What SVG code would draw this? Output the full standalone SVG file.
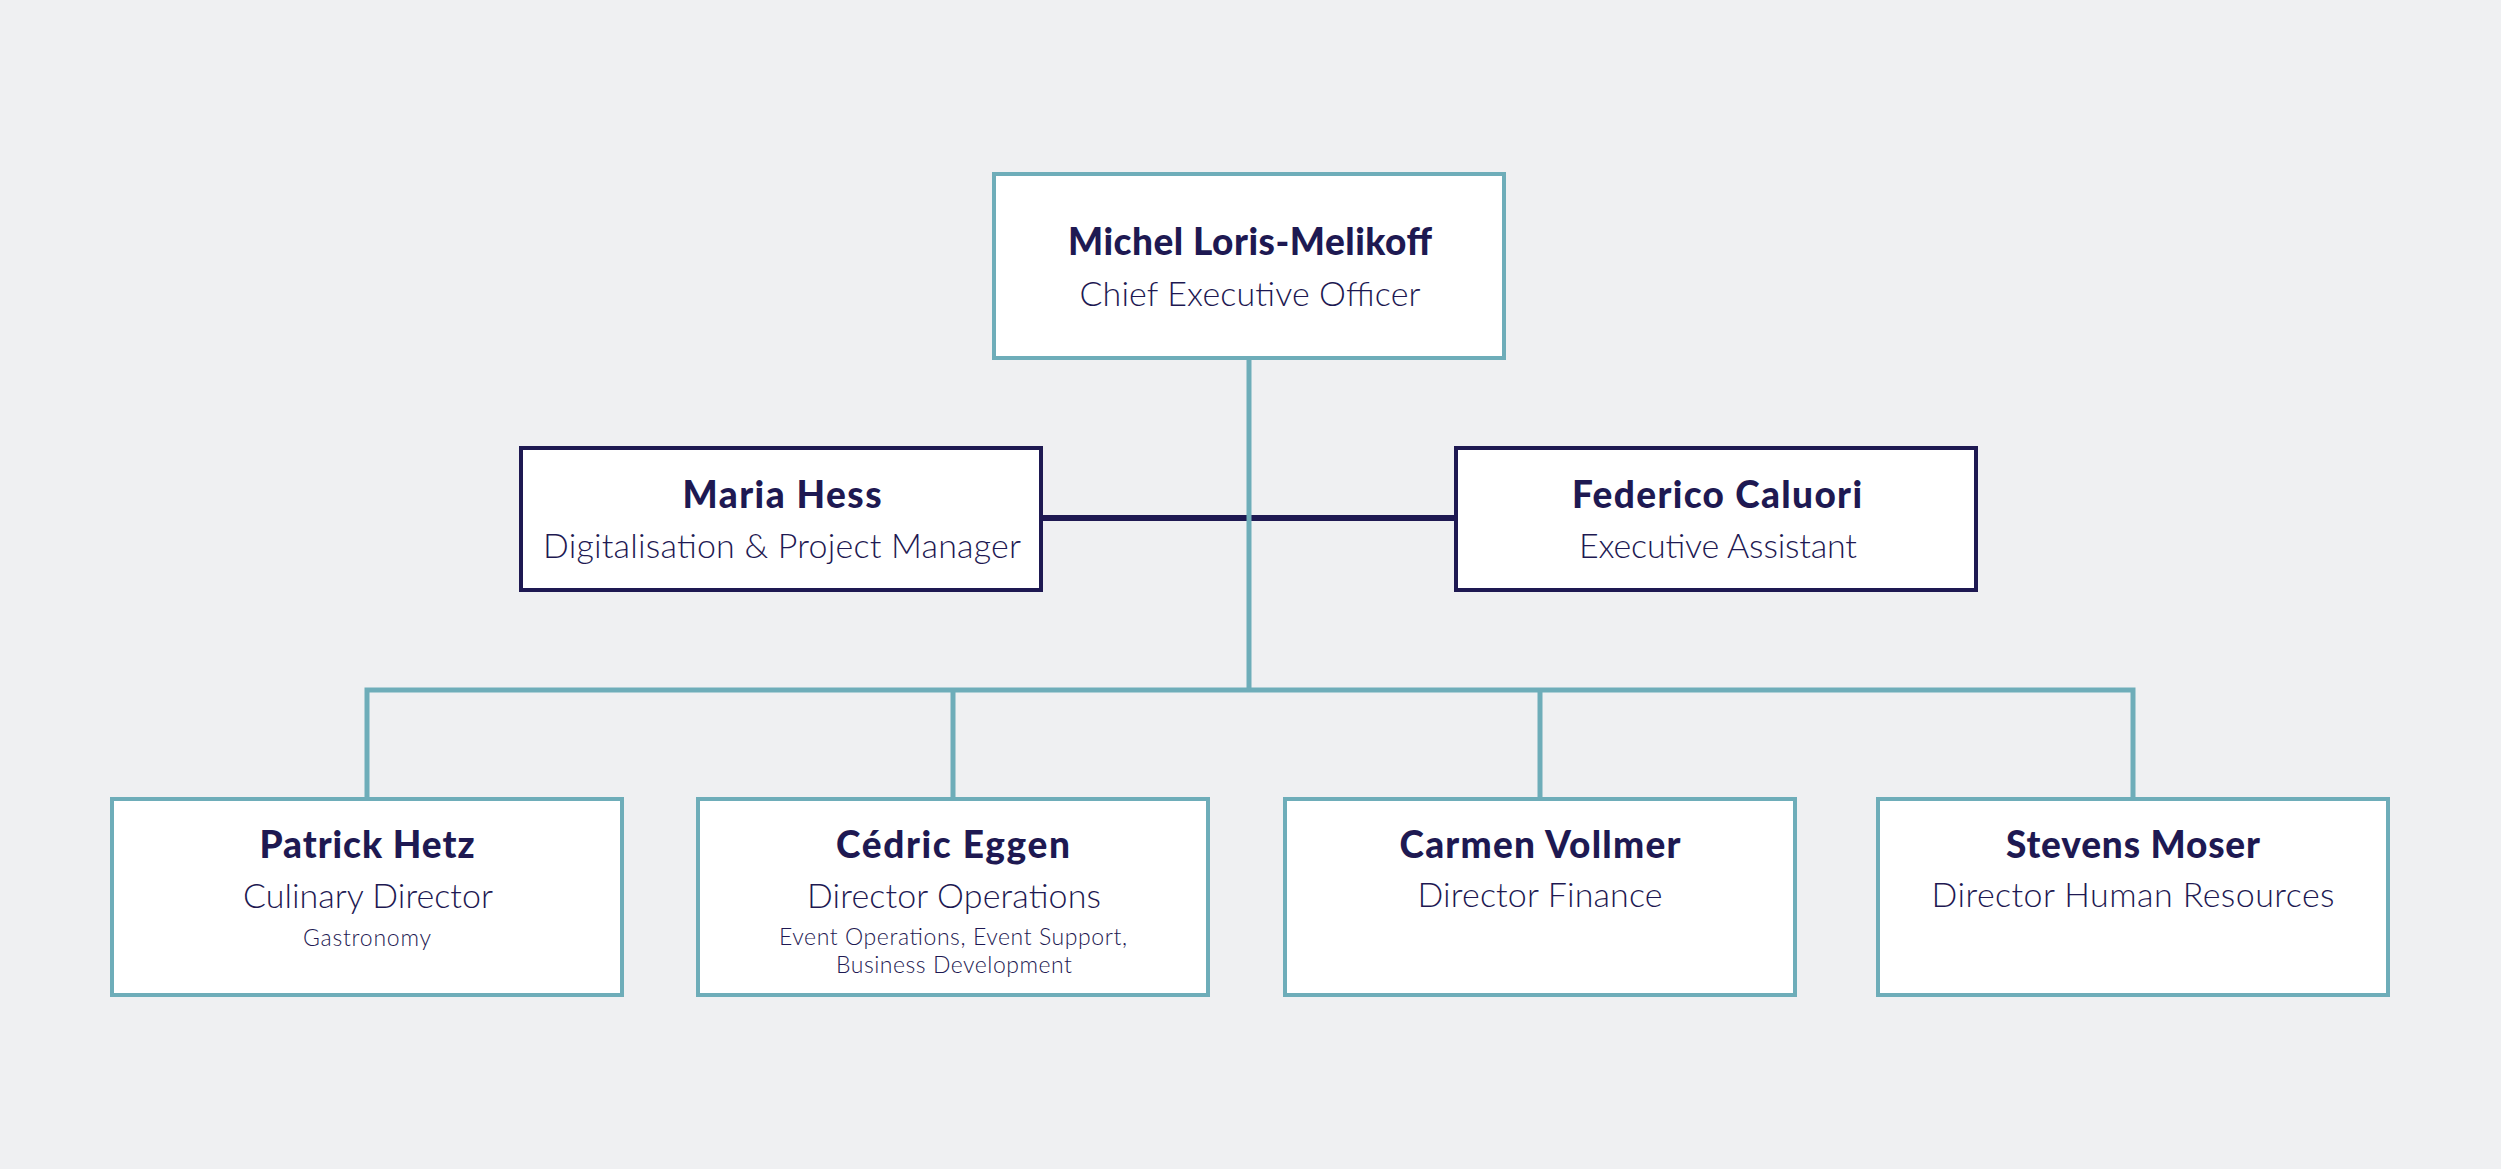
<svg xmlns="http://www.w3.org/2000/svg" width="2501" height="1169" viewBox="0 0 2501 1169">
<style>
.bg{fill:#eff0f2}
.box{fill:#ffffff;stroke:#6eadb9;stroke-width:4}
.box2{fill:#ffffff;stroke:#1e1952;stroke-width:4}
.teal{stroke:#6eadb9;stroke-width:5;fill:none}
.navy{stroke:#1e1952;stroke-width:6;fill:none}
text{font-family:Lato,"Open Sans","Liberation Sans",sans-serif;fill:#1e1952;text-anchor:middle}
.nm{font-size:37px;font-weight:900}
.tt{font-size:34px;font-weight:300}
.sm{font-size:23px;font-weight:300}
</style>
<rect class="bg" x="0" y="0" width="2501" height="1169"/>
<g id="connectors">
<line class="navy" x1="1041" y1="518" x2="1456" y2="518"/>
<line class="teal" x1="1249" y1="358" x2="1249" y2="690"/>
<polyline class="teal" points="367,799 367,690 2133,690 2133,799"/>
<line class="teal" x1="953" y1="690" x2="953" y2="799"/>
<line class="teal" x1="1540" y1="690" x2="1540" y2="799"/>
</g>
<g id="ceo">
<rect class="box" x="994" y="174" width="510" height="184"/>
<text class="nm" x="1250" y="255" textLength="364" lengthAdjust="spacing">Michel Loris-Melikoff</text>
<text class="tt" x="1250" y="306" textLength="341" lengthAdjust="spacing">Chief Executive Officer</text>
</g>
<g id="maria">
<rect class="box2" x="521" y="448" width="520" height="142"/>
<text class="nm" x="782" y="508" textLength="199" lengthAdjust="spacing">Maria Hess</text>
<text class="tt" x="782" y="558" textLength="478" lengthAdjust="spacing">Digitalisation &amp; Project Manager</text>
</g>
<g id="federico">
<rect class="box2" x="1456" y="448" width="520" height="142"/>
<text class="nm" x="1717" y="508" textLength="290" lengthAdjust="spacing">Federico Caluori</text>
<text class="tt" x="1718" y="558" textLength="278" lengthAdjust="spacing">Executive Assistant</text>
</g>
<g id="patrick">
<rect class="box" x="112" y="799" width="510" height="196"/>
<text class="nm" x="367" y="858" textLength="215" lengthAdjust="spacing">Patrick Hetz</text>
<text class="tt" x="368" y="908" textLength="250" lengthAdjust="spacing">Culinary Director</text>
<text class="sm" x="367" y="946" textLength="128" lengthAdjust="spacing">Gastronomy</text>
</g>
<g id="cedric">
<rect class="box" x="698" y="799" width="510" height="196"/>
<text class="nm" x="953" y="858" textLength="234" lengthAdjust="spacing">Cédric Eggen</text>
<text class="tt" x="954" y="908" textLength="294" lengthAdjust="spacing">Director Operations</text>
<text class="sm" x="953" y="945" textLength="348" lengthAdjust="spacing">Event Operations, Event Support,</text>
<text class="sm" x="954" y="973" textLength="236" lengthAdjust="spacing">Business Development</text>
</g>
<g id="carmen">
<rect class="box" x="1285" y="799" width="510" height="196"/>
<text class="nm" x="1540" y="858" textLength="281" lengthAdjust="spacing">Carmen Vollmer</text>
<text class="tt" x="1540" y="907" textLength="245" lengthAdjust="spacing">Director Finance</text>
</g>
<g id="stevens">
<rect class="box" x="1878" y="799" width="510" height="196"/>
<text class="nm" x="2133" y="858" textLength="254" lengthAdjust="spacing">Stevens Moser</text>
<text class="tt" x="2133" y="907" textLength="403" lengthAdjust="spacing">Director Human Resources</text>
</g>
</svg>
